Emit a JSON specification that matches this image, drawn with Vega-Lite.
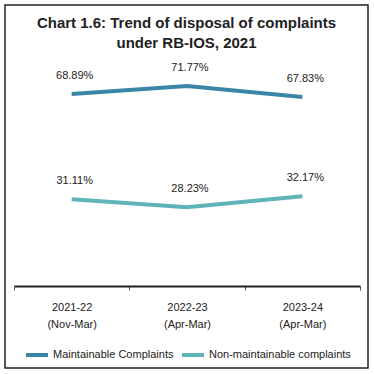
{
  "$schema": "https://vega.github.io/schema/vega-lite/v6.json",
  "autosize": "none",
  "width": 363,
  "height": 363,
  "padding": {"left": 5, "top": 5, "right": 6, "bottom": 6},
  "background": "white",
  "config": {
    "font": "Liberation Sans",
    "view": {"stroke": "#222222", "strokeWidth": 1.5}
  },
  "title": {
    "text": ["Chart 1.6: Trend of disposal of complaints", "under RB-IOS, 2021"],
    "fontSize": 15,
    "fontWeight": "bold",
    "color": "#222222",
    "anchor": "middle",
    "baseline": "top",
    "lineHeight": 20,
    "offset": -46
  },
  "data": {
    "values": [
      {"period": "2021-22 (Nov-Mar)", "series": "Maintainable Complaints", "value": 68.89},
      {"period": "2022-23 (Apr-Mar)", "series": "Maintainable Complaints", "value": 71.77},
      {"period": "2023-24 (Apr-Mar)", "series": "Maintainable Complaints", "value": 67.83},
      {"period": "2021-22 (Nov-Mar)", "series": "Non-maintainable complaints", "value": 31.11},
      {"period": "2022-23 (Apr-Mar)", "series": "Non-maintainable complaints", "value": 28.23},
      {"period": "2023-24 (Apr-Mar)", "series": "Non-maintainable complaints", "value": 32.17}
    ]
  },
  "encoding": {
    "x": {
      "field": "period",
      "type": "nominal",
      "sort": null,
      "scale": {"range": [9, 355], "paddingInner": 0, "paddingOuter": 0},
      "axis": {
        "title": null,
        "offset": -82,
        "labelAngle": 0,
        "labelExpr": "split(datum.label, ' ')",
        "labelFontSize": 11,
        "labelColor": "#222222",
        "labelLineHeight": 17,
        "labelPadding": 11,
        "domainColor": "#222222",
        "domainWidth": 2,
        "tickColor": "#555555",
        "tickSize": 4,
        "tickBand": "extent"
      }
    },
    "y": {
      "field": "value",
      "type": "quantitative",
      "scale": {"domain": [0, 80], "range": [281, 58]},
      "axis": null
    },
    "color": {
      "field": "series",
      "type": "nominal",
      "scale": {"domain": ["Maintainable Complaints", "Non-maintainable complaints"], "range": ["#3a86a6", "#5fb4b9"]},
      "legend": {
        "title": null,
        "orient": "none",
        "direction": "horizontal",
        "legendX": 19,
        "legendY": 337,
        "symbolType": "stroke",
        "symbolStrokeWidth": 4,
        "symbolSize": 484,
        "labelFontSize": 11,
        "labelColor": "#222222",
        "columnPadding": 0,
        "labelOffset": 3
      }
    }
  },
  "layer": [
    {"mark": {"type": "line", "strokeWidth": 4}},
    {
      "transform": [{"calculate": "format(datum.value, '.2f') + '%'", "as": "label"}],
      "mark": {"type": "text", "dy": -18, "dx": 3, "fontSize": 11, "color": "#222222"},
      "encoding": {
        "text": {"field": "label", "type": "nominal"},
        "color": {"value": "#222222"}
      }
    }
  ]
}
